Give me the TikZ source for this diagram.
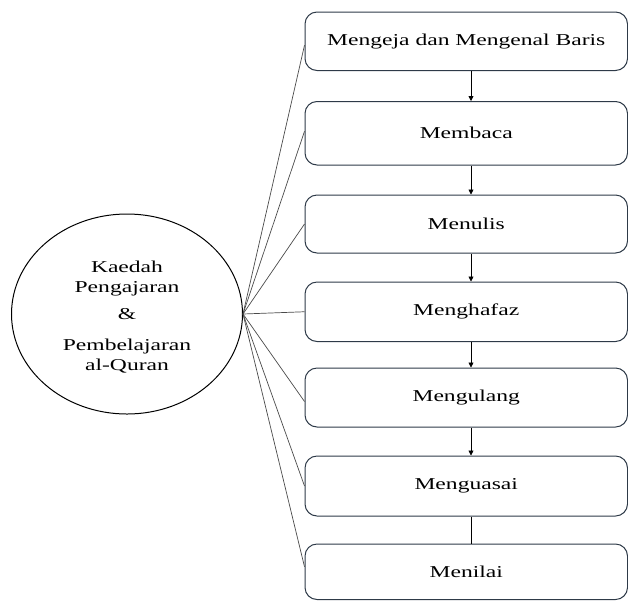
\documentclass[tikz,border=0pt]{standalone}
\usepackage{fontspec}
\setmainfont{Liberation Serif}[FakeStretch=1.42]
\usetikzlibrary{arrows.meta,shapes.geometric}
\definecolor{boxc}{HTML}{2E3A48}
\definecolor{spokec}{HTML}{4A4A4A}
\begin{document}
\begin{tikzpicture}[x=1pt,y=-1pt,
  stepbox/.style={draw=boxc, line width=1pt, rounded corners=12pt, minimum width=322.5pt, inner sep=0pt,
     font=\fontsize{16.6}{20}\selectfont},
  spoke/.style={draw=spokec, line width=0.7pt},
  flow/.style={draw=black, line width=0.75pt, -{Triangle[length=5pt,width=5pt]}},
  hubc/.style={draw=black, line width=1pt, ellipse, minimum width=231pt, minimum height=200pt, inner sep=0pt},
  hubtext/.style={align=center, inner sep=0pt, font=\fontsize{16.6}{20}\selectfont}]
\useasboundingbox (0,0) rectangle (628,600);
\node[stepbox, minimum height=58.5pt] (b1) at (466.25,41.25) {Mengeja dan Mengenal Baris};
\node[stepbox, minimum height=63.5pt] (b2) at (466.25,133.25) {Membaca};
\node[stepbox, minimum height=58pt] (b3) at (466.25,224) {Menulis};
\node[stepbox, minimum height=59.5pt] (b4) at (466.25,311.75) {Menghafaz};
\node[stepbox, minimum height=59pt] (b5) at (466.25,397.5) {Mengulang};
\node[stepbox, minimum height=60pt] (b6) at (466.25,486) {Menguasai};
\node[stepbox, minimum height=55.5pt] (b7) at (466.25,571.75) {Menilai};
\node[hubc] (hub) at (127,314) {};
\node[hubtext] (hubt) at ([yshift=-3pt]hub.center) {Kaedah\\Pengajaran\\[7pt]\&\\[11pt]Pembelajaran\\al-Quran};
\coordinate (ax) at (471,0);
\foreach \a/\b in {b1/b2,b2/b3,b3/b4,b4/b5,b5/b6}{
  \draw[flow] (\a.south -| ax) -- (\b.north -| ax);
}
\draw[draw=black, line width=0.75pt] (b6.south -| ax) -- (b7.north -| ax);
\draw[spoke] (hub.east) -- ([yshift=-4pt]b1.west);
\draw[spoke] (hub.east) -- ([yshift=2pt]b2.west);
\draw[spoke] (hub.east) -- (b3.west);
\draw[spoke] (hub.east) -- (b4.west);
\draw[spoke] (hub.east) -- ([yshift=-4pt]b5.west);
\draw[spoke] (hub.east) -- (b6.west);
\draw[spoke] (hub.east) -- ([yshift=5pt]b7.west);
\end{tikzpicture}
\end{document}
